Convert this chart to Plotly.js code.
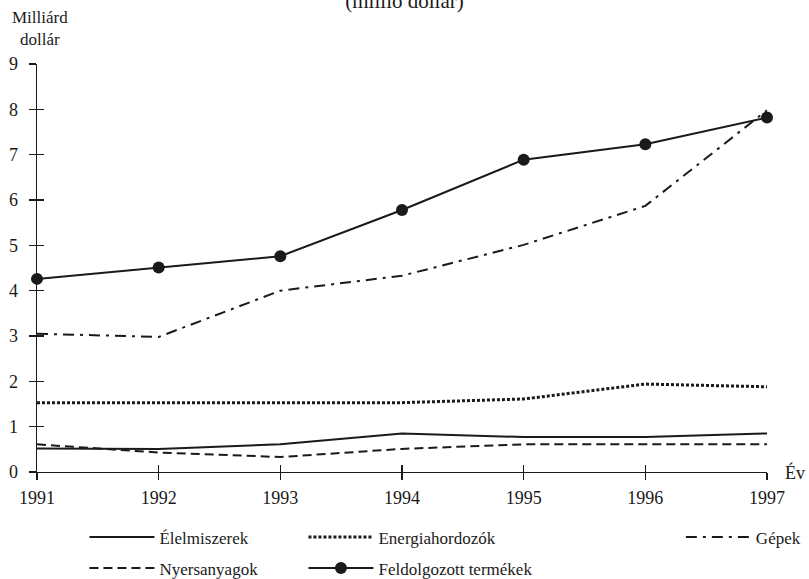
<!DOCTYPE html>
<html>
<head>
<meta charset="utf-8">
<script src="https://cdn.plot.ly/plotly-3.0.1.min.js"></script>
<style>html,body{margin:0;padding:0;background:#fff;}#chart{width:809px;height:579px;}</style>
</head>
<body>
<div id="chart"></div>
<script>
const years = [1991, 1992, 1993, 1994, 1995, 1996, 1997];
const elelmiszerek = [0.52, 0.51, 0.61, 0.85, 0.77, 0.77, 0.85];
const energiahordozok = [1.53, 1.53, 1.53, 1.53, 1.61, 1.94, 1.88];
const gepek = [3.05, 2.98, 4.0, 4.33, 5.01, 5.87, 7.98];
const nyersanyagok = [0.61, 0.43, 0.33, 0.51, 0.61, 0.61, 0.61];
const feldolgozott = [4.26, 4.51, 4.76, 5.78, 6.89, 7.23, 7.82];
const yTicks = [0, 1, 2, 3, 4, 5, 6, 7, 8, 9];

const FONT = 'Times New Roman';
const C = '#1a1a1a';

const traces = [
  {x: years, y: elelmiszerek, name: 'Élelmiszerek', mode: 'lines', line: {color: C, width: 2}, legend: 'legend', legendgroup: 'a', cliponaxis: false},
  {x: years, y: nyersanyagok, name: 'Nyersanyagok', mode: 'lines', line: {color: C, width: 2, dash: '9px,5px'}, legend: 'legend', legendgroup: 'b', cliponaxis: false},
  {x: years, y: energiahordozok, name: 'Energiahordozók', mode: 'lines', line: {color: C, width: 3, dash: '3px,2px'}, legend: 'legend2', legendgroup: 'c', cliponaxis: false},
  {x: years, y: feldolgozott, name: 'Feldolgozott termékek', mode: 'lines+markers', line: {color: C, width: 2}, marker: {color: C, size: 12}, legend: 'legend2', legendgroup: 'd', cliponaxis: false},
  {x: years, y: gepek, name: 'Gépek', mode: 'lines', line: {color: C, width: 2, dash: '11px,6px,3px,6px'}, legend: 'legend3', legendgroup: 'e', cliponaxis: false}
];

const legendBase = {orientation: 'v', font: {family: FONT, size: 17, color: C}, bgcolor: 'rgba(0,0,0,0)', borderwidth: 0, itemwidth: 65, tracegroupgap: 6, yref: 'container', yanchor: 'top', xanchor: 'left', y: 0.103, traceorder: 'grouped'};

const layout = {
  width: 809, height: 579,
  margin: {l: 37, r: 42, t: 64, b: 107, autoexpand: false},
  paper_bgcolor: '#fff', plot_bgcolor: '#fff',
  font: {family: FONT, size: 18, color: C},
  title: {text: '(millió dollár)', font: {family: FONT, size: 21, color: C}, x: 0.5, xanchor: 'center', y: 0.999, yref: 'container', yanchor: 'middle'},
  showlegend: true,
  legend: Object.assign({}, legendBase, {x: 0.065}),
  legend2: Object.assign({}, legendBase, {x: 0.365}),
  legend3: Object.assign({}, legendBase, {x: 0.882}),
  xaxis: {range: [1991, 1997], tickvals: years, ticktext: years.map(String), showgrid: false, zeroline: false, showline: true, linecolor: C, linewidth: 1.3, ticks: 'outside', ticklen: 7, tickwidth: 1.3, tickcolor: C, tickfont: {family: FONT, size: 18, color: C}, ticklabelstandoff: 2, fixedrange: true},
  yaxis: {range: [0, 9], tickvals: yTicks, showgrid: false, zeroline: false, showline: true, linecolor: C, linewidth: 1.3, ticks: 'outside', ticklen: 7, tickwidth: 1.3, tickcolor: C, tickfont: {family: FONT, size: 18, color: C}, ticklabelstandoff: 7, fixedrange: true},
  xaxis2: {range: [1991, 1997], tickvals: years, overlaying: 'x', side: 'bottom', showticklabels: false, showgrid: false, zeroline: false, ticks: 'inside', ticklen: 7, tickwidth: 1.3, tickcolor: C, showline: false},
  yaxis2: {range: [0, 9], tickvals: yTicks, overlaying: 'y', side: 'left', showticklabels: false, showgrid: false, zeroline: false, ticks: 'inside', ticklen: 7, tickwidth: 1.3, tickcolor: C, showline: false},
  annotations: [
    {text: 'Milliárd<br>dollár', xref: 'paper', yref: 'paper', x: 0.004, y: 1.087, xanchor: 'center', yanchor: 'middle', showarrow: false, font: {family: FONT, size: 17, color: C}},
    {text: 'Év', xref: 'paper', yref: 'paper', x: 1.022, y: 0.0, xanchor: 'left', yanchor: 'middle', showarrow: false, font: {family: FONT, size: 18, color: C}}
  ]
};

// hidden helper trace so that the overlay axes (inner tick halves) are drawn
traces.push({x: [years[0]], y: [yTicks[0]], xaxis: 'x2', yaxis: 'y2', mode: 'markers', marker: {opacity: 0}, showlegend: false, hoverinfo: 'skip'});

Plotly.newPlot('chart', traces, layout, {displayModeBar: false, staticPlot: true});
</script>
</body>
</html>
